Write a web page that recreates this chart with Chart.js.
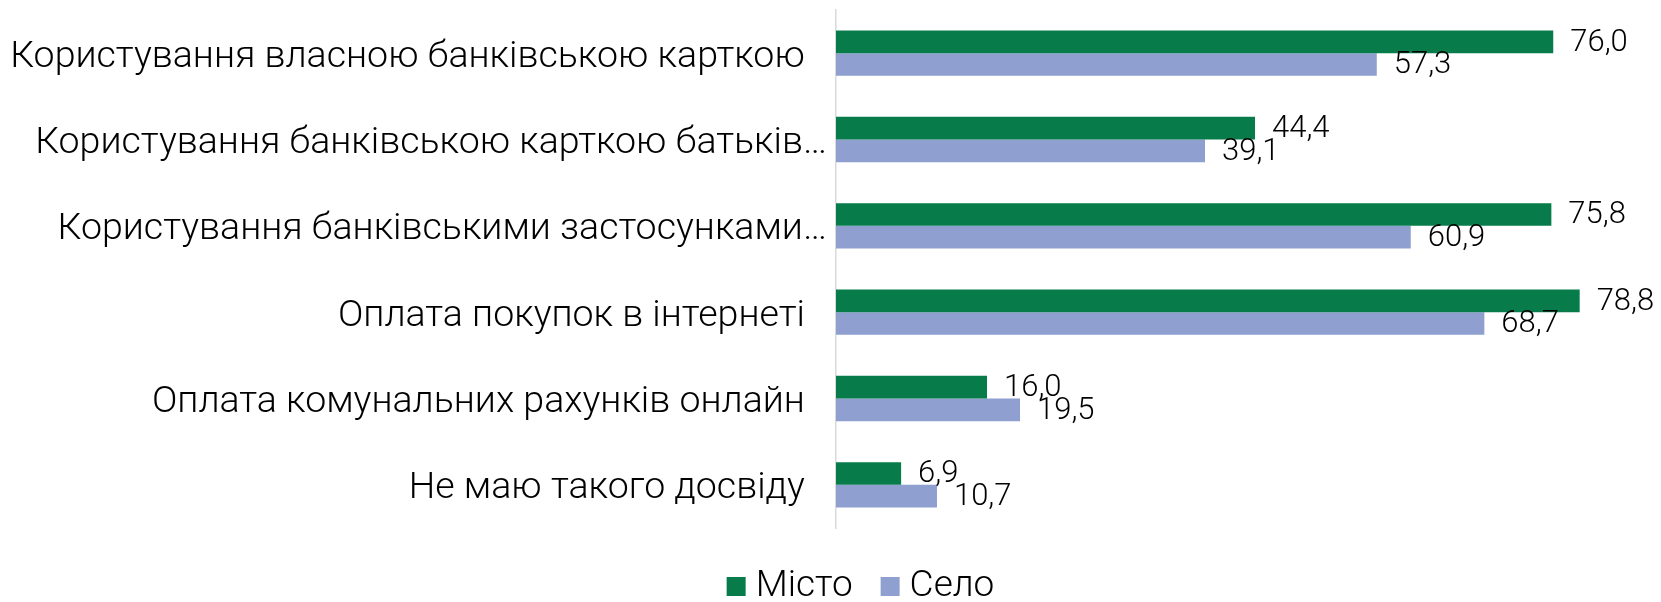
<!DOCTYPE html>
<html>
<head>
<meta charset="utf-8">
<script src="https://cdn.jsdelivr.net/npm/chart.js@4.4.1/dist/chart.umd.min.js"></script>
<style>
  html, body { margin: 0; padding: 0; background: #fff; }
  #wrap { width: 1661px; height: 602px; position: relative; }
</style>
</head>
<body>
<div id="wrap"><canvas id="c" width="1661" height="602"></canvas></div>
<script>
const categories = [
  "Користування власною банківською карткою",
  "Користування банківською карткою батьків…",
  "Користування банківськими застосунками…",
  "Оплата покупок в інтернеті",
  "Оплата комунальних рахунків онлайн",
  "Не маю такого досвіду"
];
const seriesNames = ["Місто", "Село"];
const mistoValues = [76.0, 44.4, 75.8, 78.8, 16.0, 6.9];
const seloValues = [57.3, 39.1, 60.9, 68.7, 19.5, 10.7];
const xMin = 0;
const xMax = 80;

const FONT = "Roboto";

const valueLabels = {
  id: 'valueLabels',
  afterDatasetsDraw(chart) {
    const ctx = chart.ctx;
    ctx.save();
    ctx.font = '300 31px ' + FONT;
    ctx.fillStyle = '#000';
    ctx.textAlign = 'left';
    ctx.textBaseline = 'middle';
    chart.data.datasets.forEach((ds, di) => {
      const meta = chart.getDatasetMeta(di);
      meta.data.forEach((el, i) => {
        const v = ds.data[i];
        const txt = v.toFixed(1).replace('.', ',');
        ctx.fillText(txt, el.x + 17, el.y + 1);
      });
    });
    ctx.restore();
  }
};

const customLegend = {
  id: 'customLegend',
  afterDraw(chart) {
    const ctx = chart.ctx;
    ctx.save();
    ctx.font = '300 37px ' + FONT;
    ctx.textBaseline = 'middle';
    ctx.textAlign = 'left';
    const box = 19, gap = 10, spacing = 28;
    const items = chart.data.datasets.map(ds => ({
      text: ds.label, color: ds.backgroundColor, w: ctx.measureText(ds.label).width
    }));
    let total = 0;
    items.forEach((it, i) => { total += box + gap + it.w + (i ? spacing : 0); });
    const cx = 860.5, cy = 586.5;
    let x = cx - total / 2;
    items.forEach((it) => {
      ctx.fillStyle = it.color;
      ctx.fillRect(x, cy - box / 2, box, box);
      ctx.fillStyle = '#000';
      ctx.fillText(it.text, x + box + gap, cy);
      x += box + gap + it.w + spacing;
    });
    ctx.restore();
  }
};

new Chart(document.getElementById('c'), {
  type: 'bar',
  data: {
    labels: categories,
    datasets: [
      { label: seriesNames[0], data: mistoValues, backgroundColor: '#077C4A',
        categoryPercentage: 0.526, barPercentage: 1.0 },
      { label: seriesNames[1], data: seloValues, backgroundColor: '#8E9FD0',
        categoryPercentage: 0.526, barPercentage: 1.0 }
    ]
  },
  options: {
    indexAxis: 'y',
    responsive: false,
    animation: false,
    layout: { padding: { top: 10, right: 70, left: 0, bottom: 74 } },
    scales: {
      x: { display: false, min: xMin, max: xMax },
      y: {
        afterFit(scale) {
          scale.width = 836;
          scale.paddingTop = 0;
          scale.paddingBottom = 0;
        },
        grid: { display: true, drawOnChartArea: false, drawTicks: false },
        border: { display: true, color: '#d9d9d9', width: 1.5 },
        ticks: {
          padding: 9,
          labelOffset: 4,
          color: '#000',
          font: { family: FONT, size: 37.5, weight: '300' },
          autoSkip: false,
          callback(value) {
            const t = this.getLabelForValue(value);
            return t.endsWith('…') ? t : t + '  \u200A';
          }
        }
      }
    },
    plugins: {
      legend: { display: false },
      tooltip: { enabled: false }
    }
  },
  plugins: [valueLabels, customLegend]
});
</script>
</body>
</html>
